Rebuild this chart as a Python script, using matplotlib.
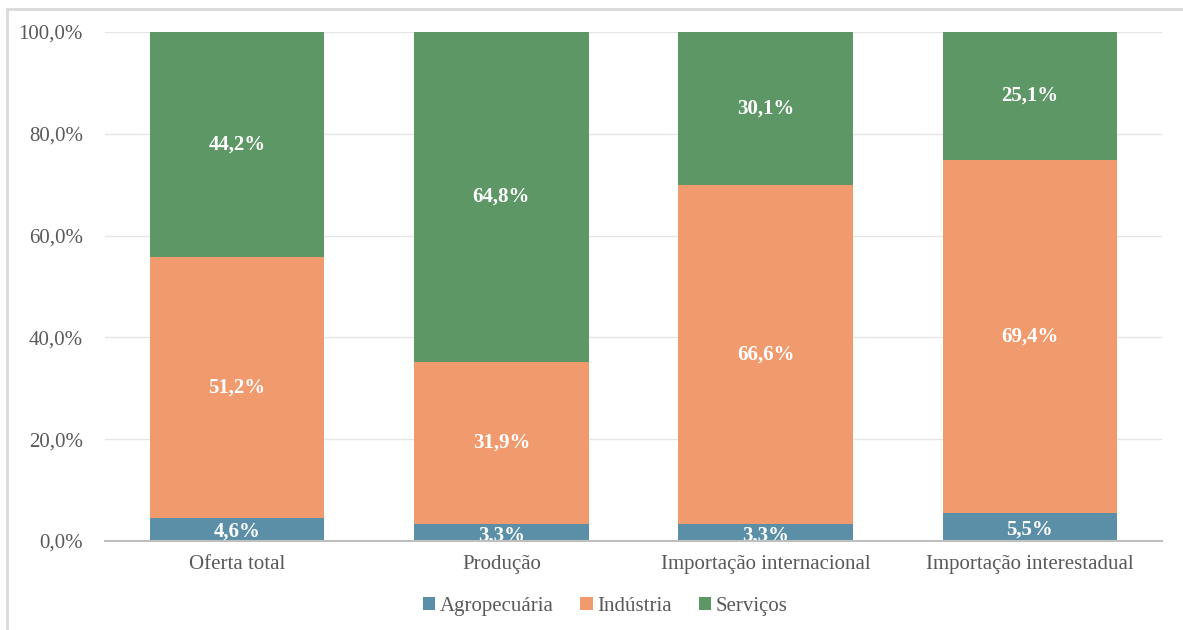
import matplotlib.pyplot as plt
import numpy as np
from matplotlib.patches import Rectangle

categories = ["Oferta total", "Produção", "Importação internacional", "Importação interestadual"]
agropecuaria = [4.6, 3.3, 3.3, 5.5]
industria = [51.2, 31.9, 66.6, 69.4]
servicos = [44.2, 64.8, 30.1, 25.1]
y_ticks = [0, 20, 40, 60, 80, 100]

series = [
    ("Agropecuária", agropecuaria, "#5B8FA8"),
    ("Indústria", industria, "#F09A6E"),
    ("Serviços", servicos, "#5E9766"),
]

plt.rcParams['font.family'] = ['Liberation Serif', 'DejaVu Serif']

fig = plt.figure(figsize=(11.83, 6.3), dpi=100)
ax = fig.add_axes([0.0888, 0.1413, 0.8935, 0.8079])

# light frame around the chart (only left and top edges fall inside the image)
fig.patches.append(Rectangle((7 / 1183, -1), 2, 2 - 9 / 630, transform=fig.transFigure,
                             fill=False, edgecolor="#D9D9D9", linewidth=2, zorder=0))

x = np.arange(len(categories))
bottom = np.zeros(len(categories))
for name, vals, color in series:
    vals = np.array(vals)
    ax.bar(x, vals, width=0.66, bottom=bottom, color=color, label=name, zorder=3)
    for xi, b, v in zip(x, bottom, vals):
        y = b + v / 2
        if v < 10:
            y = b + v / 2 - 0.5
        ax.text(xi, y, f"{v:.1f}%".replace(".", ","), ha="center", va="center",
                color="white", fontsize=15, fontweight="bold", zorder=4)
    bottom += vals

ax.set_xlim(-0.5, 3.5)
ax.set_ylim(0, 100)
ax.set_yticks(y_ticks)
ax.set_yticklabels([f"{t:.1f}%".replace(".", ",") for t in y_ticks])
ax.set_xticks(x)
ax.set_xticklabels(categories)
ax.tick_params(axis="both", length=0, labelsize=15, colors="#595959")
ax.tick_params(axis="y", pad=16)
ax.tick_params(axis="x", pad=10)

ax.yaxis.grid(True, color="#E6E6E6", linewidth=1, zorder=0)
ax.set_axisbelow(True)
for s in ["top", "right", "left"]:
    ax.spines[s].set_visible(False)
ax.spines["bottom"].set_color("#BFBFBF")
ax.spines["bottom"].set_linewidth(1.5)
ax.spines["bottom"].set_zorder(5)

leg = ax.legend(loc="upper center", bbox_to_anchor=(0.473, -0.073), ncol=3, frameon=False,
                fontsize=15, handlelength=0.6, handleheight=0.6, handletextpad=0.2,
                columnspacing=1.3)
for t in leg.get_texts():
    t.set_color("#595959")

fig.savefig("out.png", dpi=100)
